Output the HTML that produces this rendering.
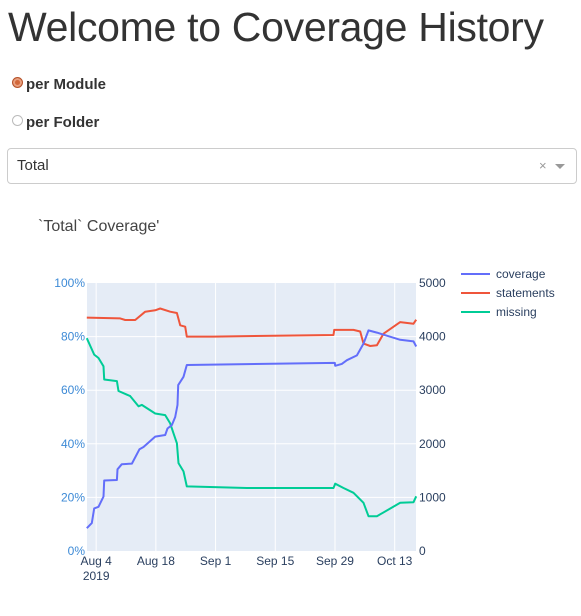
<!DOCTYPE html>
<html><head><meta charset="utf-8">
<style>
body{margin:0;width:581px;height:616px;background:#fff;font-family:"Liberation Sans",sans-serif;overflow:hidden;position:relative}
.t{position:absolute;white-space:nowrap}
</style></head><body>
<div class="t" style="left:8px;top:4px;font-size:41px;font-weight:normal;color:#333;letter-spacing:-0.3px">Welcome to Coverage History</div>
<div class="t" style="left:12px;top:76px;font-size:15px;font-weight:bold;color:#333"><span style="display:inline-block;width:9px;height:9px;border-radius:50%;background:#d2673a;border:1px solid #b5522a;box-shadow:inset 0 0 0 2px #e8a080;vertical-align:1px;margin-right:3px"></span>per Module</div>
<div class="t" style="left:12px;top:114px;font-size:15px;font-weight:bold;color:#333"><span style="display:inline-block;width:9px;height:9px;border-radius:50%;background:#fff;border:1px solid #bbb;vertical-align:1px;margin-right:3px"></span>per Folder</div>
<div style="position:absolute;left:7px;top:148px;width:568px;height:34px;border:1px solid #ccc;border-radius:4px">
<span class="t" style="left:9px;top:8px;font-size:15px;color:#333">Total</span>
<span class="t" style="left:531px;top:9px;font-size:13px;color:#999">×</span>
<span style="position:absolute;left:547px;top:15px;width:0;height:0;border-left:5px solid transparent;border-right:5px solid transparent;border-top:5px solid #999"></span>
</div>
<div class="t" style="left:38px;top:218px;font-size:16px;color:#444">`Total` Coverage'</div>
<svg id="chart" width="581" height="616" style="position:absolute;left:0;top:0"></svg>
<script>
const covDays=[-2.19,-1.02,-0.47,0.55,1.72,1.88,4.85,5.0,6.02,8.37,10.16,11.1,13.84,16.18,16.73,17.75,18.53,19.07,19.23,20.48,21.26,55.97,56.05,57.61,58.79,61.13,62.69,63.87,65.82,71.29,74.42,75.05];
const covVals=[8.5,10.4,15.9,16.5,20.3,26.3,26.5,30.5,32.4,32.6,38,38.8,42.7,43.3,45.7,47,50,54.5,61.9,65,69.4,70.2,69.1,69.8,71.2,73,77.4,82.3,81.5,78.8,78.2,76.3];
const stmDays=[-2.19,5.63,6.8,9.15,11.49,13.84,15.01,17.35,18.92,19.7,20.87,21.26,27.52,55.66,55.82,60.35,61.91,62.69,64.26,65.82,67.39,71.29,74.42,75.05];
const stmVals=[4355,4340,4310,4310,4465,4490,4525,4465,4440,4210,4185,4000,4000,4030,4125,4125,4095,3870,3825,3840,4055,4270,4240,4315];
const misDays=[-2.19,-0.47,0.55,1.72,1.88,4.85,5.24,7.97,9.93,10.71,13.84,16.18,17.35,18.14,18.92,19.31,20.48,21.26,35.33,55.66,56.05,58.0,60.35,62.69,63.87,65.82,71.29,74.42,75.05];
const misVals=[3970,3665,3600,3445,3200,3170,2985,2890,2700,2725,2565,2535,2380,2195,2010,1640,1485,1205,1175,1175,1255,1175,1085,900,650,650,900,910,1020];
const xTickDays=[0,14,28,42,56,70];
const xTickLabels=["Aug 4","Aug 18","Sep 1","Sep 15","Sep 29","Oct 13"];
const yLeftTicks=[0,20,40,60,80,100];
const yRightTicks=[0,1000,2000,3000,4000,5000];
const L=87,R=416,T=283,B=551,d0=-2.15,d1=75.0;
const sx=d=>L+(d-d0)/(d1-d0)*(R-L);
const syL=p=>B-p/100*(B-T);
const syR=v=>B-v/5000*(B-T);
const svg=document.getElementById('chart');
const NS='http://www.w3.org/2000/svg';
function mk(tag,at){const e=document.createElementNS(NS,tag);for(const k in at)e.setAttribute(k,at[k]);svg.appendChild(e);return e;}
const bg=mk('rect',{x:L,y:T,width:R-L,height:B-T,fill:'#e5ecf6'});


yLeftTicks.forEach((p,i)=>{
 if(i>0&&i<5){const g=mk('line',{x1:L,x2:R,y1:syL(p),y2:syL(p),stroke:'#fff','stroke-width':1});
 
 }
 const t=mk('text',{x:L-2,y:syL(p)+4,'text-anchor':'end','font-size':12,fill:'#3d8ad6','font-family':'Liberation Sans, sans-serif'});t.textContent=p+'%';
 
 
});
yRightTicks.forEach(v=>{
 const t=mk('text',{x:R+3,y:syR(v)+4,'font-size':12,fill:'#2a3f5f','font-family':'Liberation Sans, sans-serif'});t.textContent=v;
 
 
});
xTickDays.forEach((d,i)=>{
 const g=mk('line',{x1:sx(d),x2:sx(d),y1:T,y2:B,stroke:'#fff','stroke-width':1});
 
 
 const t=mk('text',{x:sx(d),y:B+14,'text-anchor':'middle','font-size':12,fill:'#2a3f5f','font-family':'Liberation Sans, sans-serif'});t.textContent=xTickLabels[i];
 
 
});
const yr=mk('text',{x:sx(0),y:B+29,'text-anchor':'middle','font-size':12,fill:'#2a3f5f','font-family':'Liberation Sans, sans-serif'});yr.textContent='2019';


function line(days,vals,sy,color,name){
 const pts=days.map((d,i)=>sx(d).toFixed(1)+','+sy(vals[i]).toFixed(1)).join(' ');
 const p=mk('polyline',{points:pts,fill:'none',stroke:color,'stroke-width':2,'stroke-linejoin':'round'});
 
 
}
line(stmDays,stmVals,syR,'#ef553b','statements-line');
line(misDays,misVals,syR,'#00cc96','missing-line');
line(covDays,covVals,syL,'#636efa','coverage-line');
const legNames=['coverage','statements','missing'],legColors=['#636efa','#ef553b','#00cc96'];
legNames.forEach((n,i)=>{
 const y=274+i*19;
 const l=mk('line',{x1:461,x2:490,y1:y,y2:y,stroke:legColors[i],'stroke-width':2});
 
 
 const t=mk('text',{x:496,y:y+4,'font-size':12,fill:'#2a3f5f','font-family':'Liberation Sans, sans-serif'});t.textContent=n;
 
 
});
</script>
</body></html>
